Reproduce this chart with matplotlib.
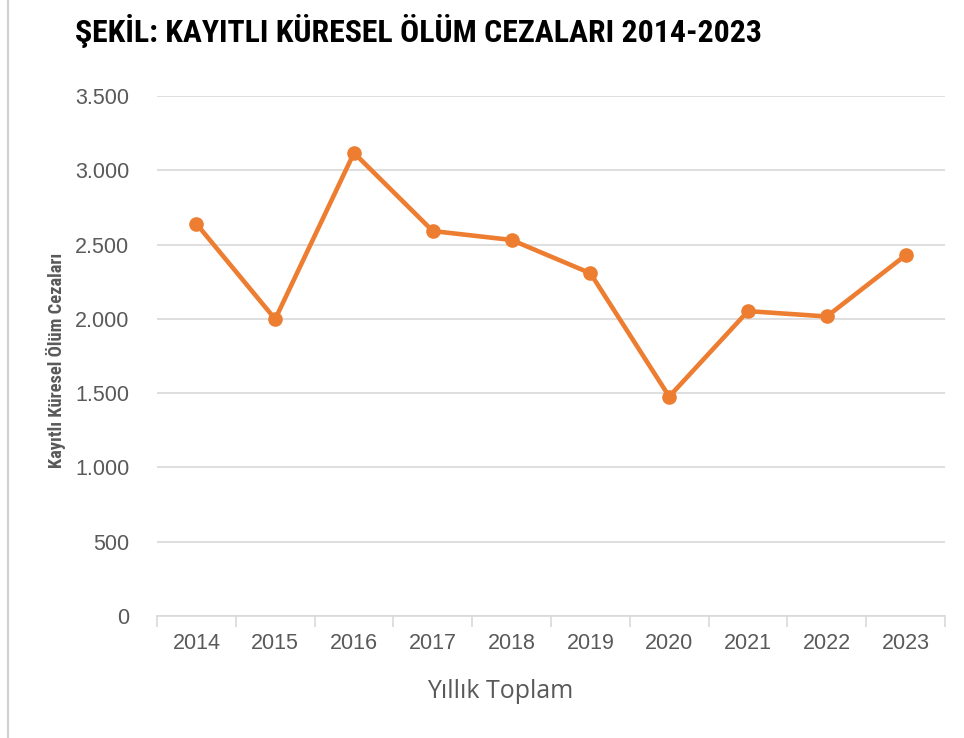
import numpy as np
import matplotlib.pyplot as plt
from matplotlib.ticker import FixedLocator, MultipleLocator, FuncFormatter
from matplotlib.patches import Rectangle

years = ["2014", "2015", "2016", "2017", "2018", "2019", "2020", "2021", "2022", "2023"]
sentences = [2640, 1998, 3117, 2591, 2531, 2307, 1477, 2052, 2016, 2428]

TITLE = "ŞEKİL: KAYITLI KÜRESEL ÖLÜM CEZALARI 2014-2023"
YLABEL = "Kayıtlı Küresel Ölüm Cezaları"
XLABEL = "Yıllık Toplam"

ORANGE = "#ED7D31"
GRAY_TXT = "#595959"
GRID = "#D9D9D9"
CONDENSED = ["Roboto Condensed", "Barlow Condensed", "Oswald", "DejaVu Sans"]
BODY = ["Liberation Sans", "DejaVu Sans"]
LABEL = ["Open Sans", "Roboto", "DejaVu Sans"]

fig = plt.figure(figsize=(9.64, 7.38), dpi=100)
ax = fig.add_axes([157 / 964, 1 - 616 / 738, 788 / 964, 520 / 738])

x = np.arange(len(years))
ax.plot(x, sentences, "-o", color=ORANGE, lw=3.3, ms=9.5, solid_capstyle="round")

ax.set_xlim(-0.5, len(years) - 0.5)
ax.set_ylim(0, 3500)
ax.yaxis.set_major_locator(MultipleLocator(500))
ax.yaxis.set_major_formatter(FuncFormatter(lambda v, p: f"{int(v):,}".replace(",", ".")))
ax.grid(True, axis="y", color=GRID, lw=1.2)
ax.set_axisbelow(True)

ax.set_xticks(x)
ax.set_xticklabels(years)
ax.xaxis.set_minor_locator(FixedLocator(np.arange(-0.5, len(years), 1.0)))
ax.tick_params(axis="x", which="major", length=0, pad=12)
ax.tick_params(axis="x", which="minor", length=8, color=GRID, width=1.2)
ax.tick_params(axis="y", length=0, pad=20)
for lab in ax.get_xticklabels() + ax.get_yticklabels():
    lab.set_family(BODY)
    lab.set_fontsize(15.5)
    lab.set_color(GRAY_TXT)

for s in ["top", "right", "left"]:
    ax.spines[s].set_visible(False)
ax.spines["bottom"].set_color(GRID)
ax.spines["bottom"].set_linewidth(1.2)

ylab = fig.text(56 / 964, 1 - 360 / 738, YLABEL, family=CONDENSED, fontweight="bold",
                fontsize=11, color=GRAY_TXT, rotation=90, ha="center", va="center")
xlab = fig.text(500 / 964, 1 - 692 / 738, XLABEL, family=LABEL, fontsize=15,
                color=GRAY_TXT, ha="center", va="center")
title = fig.text(75 / 964, 1 - 14 / 738, TITLE, family=CONDENSED, fontweight="heavy",
                 fontsize=27, color="black", va="top", ha="left")

# scale a few texts so their extents match the reference
renderer = fig.canvas.get_renderer()
for t, target, horiz in [(title, 685, True), (ylab, 215, False), (xlab, 145, True)]:
    bb = t.get_window_extent(renderer)
    size = bb.width if horiz else bb.height
    t.set_fontsize(t.get_fontsize() * target / size)

# outer frame
fig.patches.append(Rectangle((8 / 964, -0.01), 1.0, 1.02, transform=fig.transFigure,
                             fill=False, edgecolor="#D0D0D0", lw=1.5))

fig.savefig("out.png", dpi=100)
